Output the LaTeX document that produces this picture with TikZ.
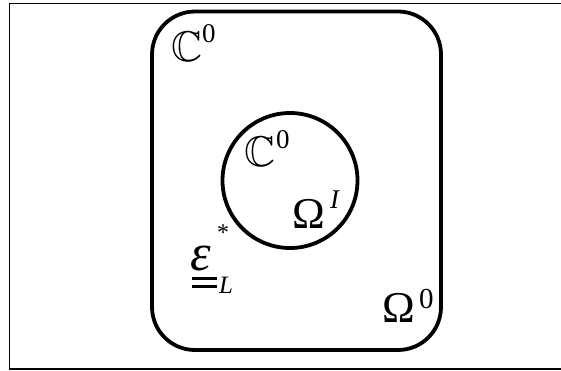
\documentclass[tikz,border=0pt]{standalone}
\usepackage{amssymb}
\usepackage{fontspec}
\setmainfont{Liberation Serif}
\begin{document}
\begin{tikzpicture}[x=1pt,y=-1pt,
  thick shape/.style={line width=3.8pt},
  lbl/.style={inner sep=0pt,outer sep=0pt,anchor=base west},
  big/.style={lbl,font=\fontsize{43}{50}\selectfont},
  sup/.style={lbl,font=\fontsize{27}{32}\selectfont}]
\useasboundingbox (0,0) rectangle (561,370);
% frame (three visible sides)
\coordinate (f1) at (570,3.8);
\coordinate (f2) at (9.6,3.8);
\coordinate (f3) at (9.6,369);
\coordinate (f4) at (570,369);
\draw[line width=1.3pt] (f1) -- (f2) -- (f3) -- (f4);
% outer rounded region
\draw[thick shape,rounded corners=43pt] (152,11.5) rectangle (441,350);
% inner circle
\node[draw,thick shape,circle,minimum size=135pt,inner sep=0pt] (circ) at (290,180.5) {};
% labels
\node[big] (c1) at (171,61) {$\mathbb{C}$};
\node[sup] (c1s) at (202,42) {0};
\node[big] (c2) at (244,166) {$\mathbb{C}$};
\node[sup] (c2s) at (276,148) {0};
\node[lbl,font=\fontsize{44}{50}\selectfont] (om1) at (292,228) {Ω};
\node[sup] (om1s) at (330,208) {\itshape I};
\node[lbl,font=\fontsize{44}{50}\selectfont] (om0) at (382,322) {Ω};
\node[lbl,font=\fontsize{29}{34}\selectfont] (om0s) at (419,308) {0};
\node[lbl,font=\fontsize{52}{58}\selectfont\itshape] (eps) at (190,270) {ε};
\node[lbl,font=\fontsize{24}{28}\selectfont] (star) at (217,240) {*};
\node[lbl,font=\fontsize{25}{30}\selectfont\itshape] (L) at (219,293) {L};
\coordinate (u1a) at (192,278.5);
\coordinate (u1b) at (217,278.5);
\coordinate (u2a) at (192,286.5);
\coordinate (u2b) at (217,286.5);
\draw[line width=2.4pt] (u1a) -- (u1b);
\draw[line width=2.4pt] (u2a) -- (u2b);
\end{tikzpicture}
\end{document}
